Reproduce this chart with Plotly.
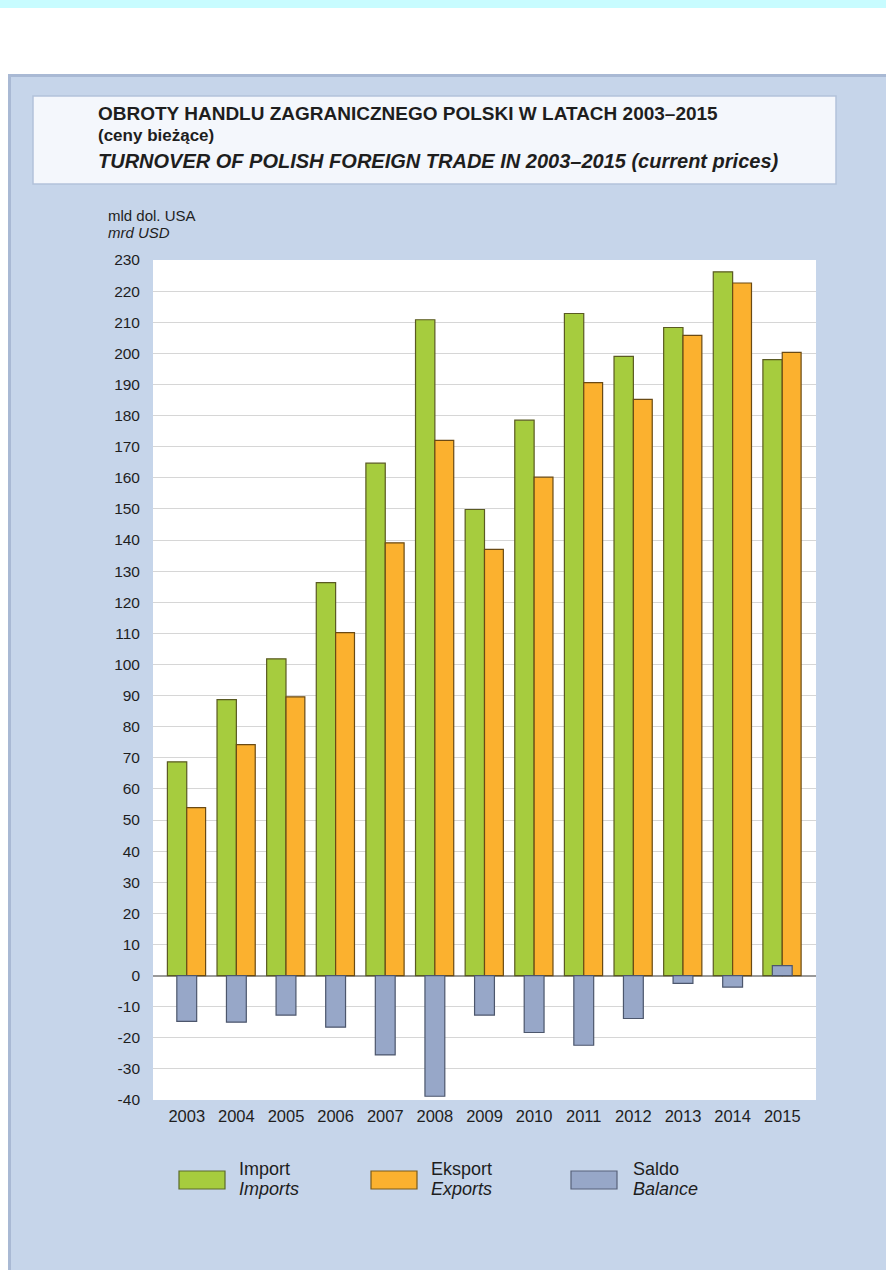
import plotly.graph_objects as go

years = [2003, 2004, 2005, 2006, 2007, 2008, 2009, 2010, 2011, 2012, 2013, 2014, 2015]
imports = [68.7, 88.7, 101.8, 126.3, 164.7, 210.8, 149.8, 178.5, 212.8, 199.0, 208.3, 226.2, 198.0]
exports = [54.0, 74.2, 89.6, 110.2, 139.1, 172.0, 137.0, 160.2, 190.6, 185.2, 205.8, 222.6, 200.3]
balance = [-14.7, -15.0, -12.7, -16.6, -25.5, -38.8, -12.7, -18.3, -22.4, -13.8, -2.5, -3.7, 3.2]
y_ticks = list(range(-40, 231, 10))

W, H = 886, 1270
L, R, T, B = 153, 70, 260, 170
PW, PH = W - L - R, H - T - B

def px(x):
    return (x - L) / PW

def py(y):
    return (H - B - y) / PH

GREEN = "#a6cc3e"
ORANGE = "#fbb12f"
BLUE = "#97a7c8"
PANEL = "#c6d5ea"
BORDER = "#a9b9d4"
TXT = "#1e1e1e"
FONT = "Liberation Sans, Arial, sans-serif"

fig = go.Figure()
fig.add_trace(go.Bar(x=years, y=imports, name="Import", width=0.39, offset=-0.39,
                     marker=dict(color=GREEN, line=dict(color="#5a5a22", width=1.2))))
fig.add_trace(go.Bar(x=years, y=exports, name="Eksport", width=0.38, offset=0.0,
                     marker=dict(color=ORANGE, line=dict(color="#6a4a14", width=1.2))))
fig.add_trace(go.Bar(x=years, y=balance, name="Saldo", width=0.40, offset=-0.2,
                     marker=dict(color=BLUE, line=dict(color="#4c566c", width=1.2))))

shapes = []
shapes.append(dict(type="rect", xref="paper", yref="paper", x0=px(0), x1=px(W), y0=py(0), y1=py(74),
                   fillcolor="white", line=dict(width=0), layer="below"))
shapes.append(dict(type="rect", xref="paper", yref="paper", x0=px(0), x1=px(W), y0=py(0), y1=py(8),
                   fillcolor="#c8fcff", line=dict(width=0), layer="below"))
shapes.append(dict(type="rect", xref="paper", yref="paper", x0=px(0), x1=px(8), y0=py(8), y1=py(H),
                   fillcolor="white", line=dict(width=0), layer="below"))
shapes.append(dict(type="line", xref="paper", yref="paper", x0=px(8), x1=px(W), y0=py(75.5), y1=py(75.5),
                   line=dict(color=BORDER, width=3), layer="below"))
shapes.append(dict(type="line", xref="paper", yref="paper", x0=px(9.5), x1=px(9.5), y0=py(75), y1=py(H),
                   line=dict(color=BORDER, width=3), layer="below"))
shapes.append(dict(type="rect", xref="paper", yref="paper", x0=px(33), x1=px(836), y0=py(96), y1=py(184),
                   fillcolor="#f4f7fc", line=dict(color="#b3c2da", width=1.5), layer="below"))
for x0, col, lc in [(179, GREEN, "#5a6a2a"), (371, ORANGE, "#7a5a1a"), (571, BLUE, "#58627a")]:
    shapes.append(dict(type="rect", xref="paper", yref="paper", x0=px(x0), x1=px(x0 + 46),
                       y0=py(1171), y1=py(1189), fillcolor=col, line=dict(color=lc, width=1.2)))

ann = []
def text(x, y, s, size=15, bold=False, italic=False):
    ann.append(dict(xref="paper", yref="paper", x=px(x), y=py(y), text=s, showarrow=False,
                    xanchor="left", yanchor="middle", align="left",
                    font=dict(family=FONT, size=size, color=TXT,
                              weight="bold" if bold else "normal",
                              style="italic" if italic else "normal")))

text(96, 114, "OBROTY HANDLU ZAGRANICZNEGO POLSKI W LATACH 2003–2015", 19, bold=True)
text(96, 135, "(ceny bieżące)", 17, bold=True)
text(96, 161, "TURNOVER OF POLISH FOREIGN TRADE IN 2003–2015 (current prices)", 20, bold=True, italic=True)
text(106, 216, "mld dol. USA", 15)
text(106, 233, "mrd USD", 15, italic=True)
for x, a, b in [(237, "Import", "Imports"), (429, "Eksport", "Exports"), (631, "Saldo", "Balance")]:
    text(x, 1169, a, 18)
    text(x, 1189, b, 18, italic=True)

fig.update_layout(
    width=W, height=H,
    margin=dict(l=L, r=R, t=T, b=B),
    paper_bgcolor=PANEL, plot_bgcolor="white",
    barmode="overlay", showlegend=False,
    shapes=shapes, annotations=ann,
    font=dict(family=FONT, color=TXT, size=15),
)
fig.update_xaxes(range=[2002.32, 2015.68], tickvals=years, ticktext=[str(y) for y in years],
                 showgrid=False, zeroline=False, showline=False, ticks="",
                 tickfont=dict(size=16.5, color=TXT), ticklabelstandoff=4)
fig.update_yaxes(range=[-40, 230], tickvals=y_ticks, ticktext=[str(v) for v in y_ticks],
                 showgrid=True, gridcolor="#d6d6d6", gridwidth=1,
                 zeroline=True, zerolinecolor="#9a9a9a", zerolinewidth=2,
                 showline=False, ticks="", tickfont=dict(size=15.5, color=TXT), ticklabelstandoff=12)

fig.write_html("out.html")
